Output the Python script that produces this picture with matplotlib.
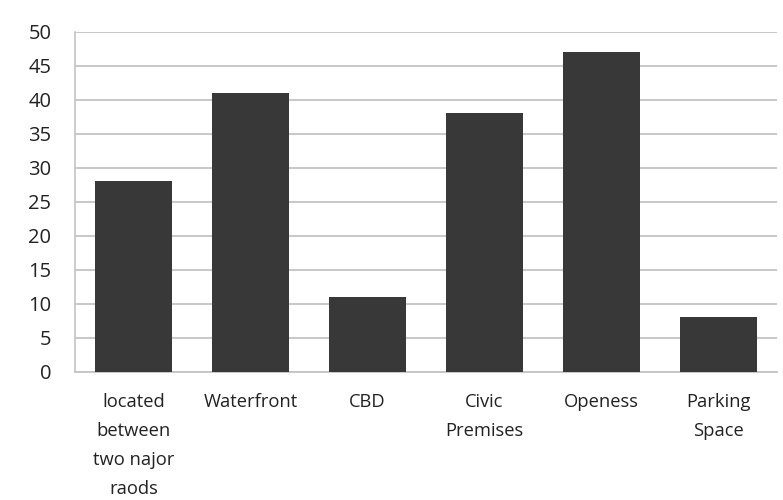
import matplotlib
matplotlib.use("Agg")
import matplotlib.pyplot as plt

categories = ["located\nbetween\ntwo najor\nraods", "Waterfront", "CBD",
              "Civic\nPremises", "Openess", "Parking\nSpace"]
values = [28, 41, 11, 38, 47, 8]
yticks = [0, 5, 10, 15, 20, 25, 30, 35, 40, 45, 50]

plt.rcParams['font.family'] = ['Open Sans', 'DejaVu Sans']

fig = plt.figure(figsize=(7.83, 5.0), dpi=100)
ax = fig.add_axes([75/783, (500-371.7)/500, (777-75)/783, (371.7-31.7)/500])

x = list(range(len(categories)))
ax.bar(x, values, width=0.65, color="#383838", zorder=3)

ax.set_xlim(-0.5, len(categories) - 0.5)
ax.set_ylim(0, 50)
ax.set_yticks(yticks)
ax.set_yticklabels([str(t) for t in yticks], fontsize=14.5, color="#222222")
ax.set_xticks(x)
ax.set_xticklabels(categories, fontsize=13.2, color="#222222", linespacing=1.8)

ax.grid(axis="y", color="#c4c4c4", linewidth=1.3, zorder=0)
for s in ["top", "right"]:
    ax.spines[s].set_visible(False)
ax.spines["left"].set_color("#c4c4c4")
ax.spines["bottom"].set_color("#c4c4c4")
ax.spines["left"].set_linewidth(1.2)
ax.spines["bottom"].set_linewidth(1.3)
ax.tick_params(axis="y", length=0, pad=17)
ax.tick_params(axis="x", length=0, pad=15)

fig.savefig("out.png", dpi=100)
